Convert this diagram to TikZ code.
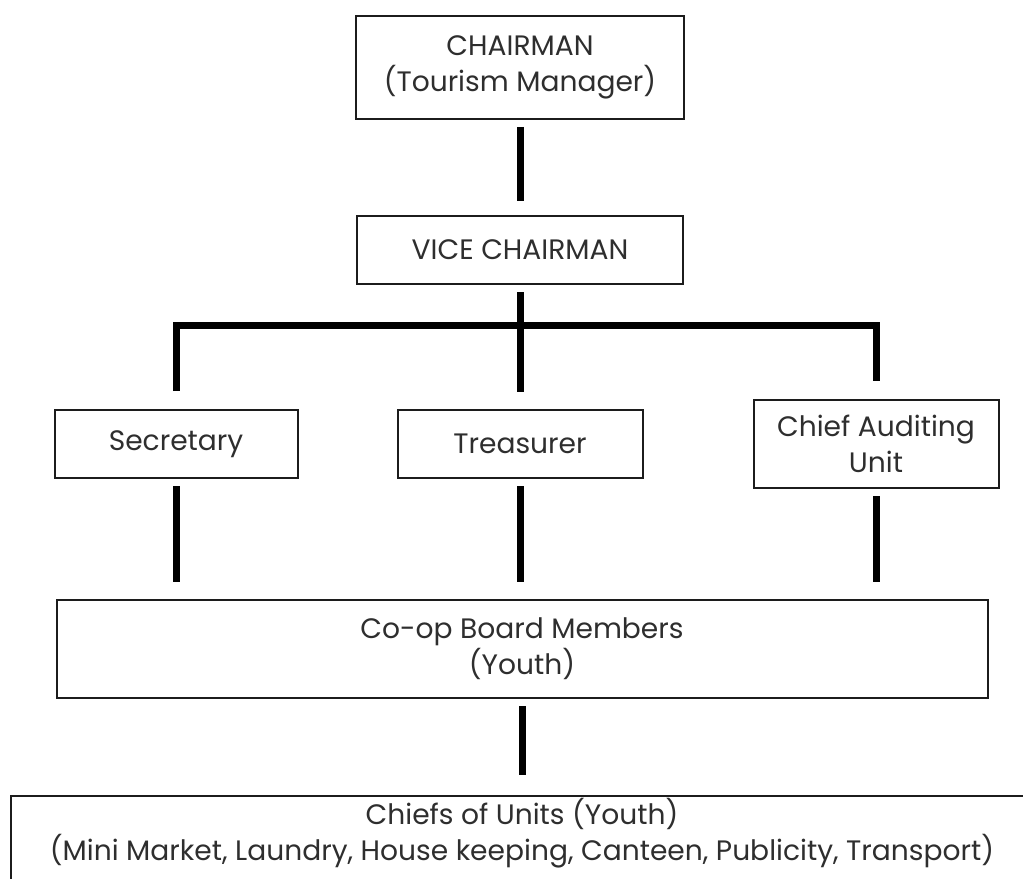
\documentclass[tikz,border=0pt]{standalone}
\usepackage{fontspec}
\setmainfont{Poppins}
\usepackage{xcolor}
\usepackage{tikz}
\usetikzlibrary{positioning}
\definecolor{ink}{HTML}{1c1c1c}
\definecolor{txt}{HTML}{2e2e2e}

\begin{document}
\begin{tikzpicture}[
  font=\fontsize{16}{20.4}\selectfont,
  box/.style={draw=ink,line width=0.4mm,align=center,inner sep=0pt,text=txt,minimum height=13.6mm},
  link/.style={line width=1.4mm,draw=black,shorten <=1.4mm,shorten >=3.4mm}]
  \useasboundingbox (0,0) rectangle (204.6mm,-175.8mm);
  \node[box,anchor=north,minimum width=65.6mm,minimum height=20.6mm] (chair) at (104mm,-3mm) {CHAIRMAN\\(Tourism Manager)};
  \node[box,below=19mm of chair,minimum width=65.2mm] (vice) {VICE CHAIRMAN};
  \node[box,below=24.8mm of vice,minimum width=49mm] (treas) {Treasurer};
  \node[box,left=19.6mm of treas,minimum width=48.6mm] (sec) {Secretary};
  \node[box,right=21.8mm of treas,minimum width=49mm,minimum height=17.6mm] (audit) {Chief Auditing\\Unit};
  \node[box,below=24mm of treas,xshift=0.4mm,minimum width=186.2mm,minimum height=19.6mm] (board) {Co-op Board Members\\(Youth)};
  \node[box,below=19.2mm of board,minimum width=204.4mm,inner ysep=0.5mm,text depth=16mm] (units) {Chiefs of Units (Youth)\\(Mini Market, Laundry, House keeping, Canteen, Publicity, Transport)};

  \coordinate[below=8mm of vice.south] (jn);
  \draw[link,shorten >=2.8mm] (chair) -- (vice);
  \draw[link,shorten >=0pt] (vice) -- (jn);
  \draw[link,shorten <=0pt] (jn) -- (treas);
  \draw[link,shorten <=3.6mm,shorten >=3.6mm] (sec) |- (jn) -| (audit);
  \draw[link] (sec.south) -- (sec.south |- board.north);
  \draw[link] (treas.south) -- (treas.south |- board.north);
  \draw[link] (audit.south) -- (audit.south |- board.north);
  \draw[link,shorten >=4mm] (board) -- (board.south |- units.north);
\end{tikzpicture}
\end{document}
